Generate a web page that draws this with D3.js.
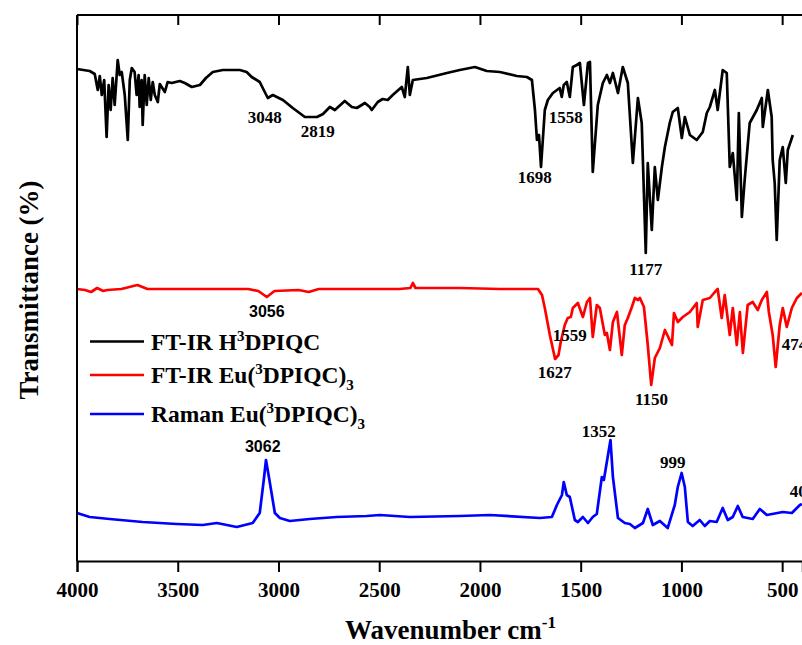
<!DOCTYPE html>
<html>
<head>
<meta charset="utf-8">
<script src="https://cdn.jsdelivr.net/npm/d3@7"></script>
<style>
  html, body { margin: 0; padding: 0; background: #fff; }
  svg { display: block; }
</style>
</head>
<body>
<svg id="chart" width="802" height="645"></svg>
<script>
// FT-IR H3DPIQC (black) - wavenumber / relative intensity (offset, a.u.)
const irLigandWave = [4000,3937,3912,3897,3887,3877,3865,3853,3843,3833,3823,3813,3798,3788,3778,3763,3748,3738,3728,3714,3704,3694,3689,3679,3674,3664,3654,3644,3634,3624,3614,3599,3589,3564,3550,3530,3490,3465,3430,3390,3360,3326,3276,3192,3158,3133,3093,3053,3028,2978,2929,2869,2809,2779,2745,2720,2671,2636,2611,2571,2547,2537,2507,2483,2458,2433,2388,2373,2358,2348,2333,2264,2164,2100,2025,1966,1901,1817,1767,1742,1727,1717,1707,1697,1688,1678,1663,1638,1604,1594,1584,1569,1554,1539,1519,1504,1484,1464,1454,1440,1415,1390,1370,1355,1340,1315,1291,1266,1241,1216,1197,1177,1167,1147,1132,1117,1097,1082,1058,1043,1018,998,983,958,924,894,874,859,834,820,795,775,760,745,725,715,700,686,676,661,626,601,596,571,552,547,537,527,512,497,482,472,447];
const irLigandVal = [246,245,243.5,235.5,242.5,233,240.5,212,238,225.5,241.5,228,250.5,243,244.5,233,210.5,240.5,246.5,244.5,233,243,227,240.5,218,243,228,241.5,230.5,239.5,233,229.5,238.5,234.5,239.5,239,240,239,237,238,241.5,244.5,245.5,245.5,244.5,242,239.5,231.5,233,230.5,226.5,222,222,223.5,227,225.5,230,227,226.5,229,227,225.5,229.5,231,230.5,233,237,232,247,233,240.5,241.5,244,245.5,247,245,244.5,242.5,242,240.5,225.5,210.5,213,197,210.5,225.5,230.5,234,236.5,232,238,239.5,232,247,248,249,228,249,249.5,194.5,228,239,243,239,244,234,247,239,199,231.5,219,154,199,165.5,197,180.5,197,207,219,224.5,226.5,211.5,222,213,210.5,214.5,224,227,235.5,225.5,245.5,244,197,204,180.5,224,172,190.5,202,219,225.5,231.5,217,235.5,222,200.5,189,160.5,200.5,207,189,205.5,213];

// FT-IR Eu(3DPIQC)3 (red)
const irComplexWave = [4000,3960,3930,3900,3870,3850,3780,3700,3650,3500,3300,3150,3100,3058,3020,2900,2850,2800,2600,2400,2345,2333,2320,2100,1900,1802,1712,1692,1678,1653,1627,1610,1599,1579,1564,1549,1539,1514,1489,1469,1454,1440,1420,1405,1380,1370,1355,1340,1320,1296,1281,1266,1246,1231,1215,1206,1186,1167,1150,1132,1107,1082,1047,1037,1018,993,958,924,919,894,859,834,820,800,785,760,745,725,710,695,671,646,621,601,576,566,547,532,512,497,477,452,427,402];
const irComplexVal = [136,135.5,134.5,136.5,135,135.5,136,138,136,136,136,136,135,132,135,135.5,134.5,136,136,136,136.5,139,136.5,136.5,136,136,136,133,126.5,113,101,103,109.5,118,121.5,122,126.5,129,122,129.5,131.5,112,128,126.5,113,114,105.5,119.5,124.5,103,118,121.5,127,131.5,130.5,131.5,127,108,88,101.5,106.5,115.5,108,124,119.5,122,124.5,129,117,130.5,131.5,134.5,136,121.5,133,113,126.5,108,124.5,104,128,129.5,125.5,130.5,134.5,124.5,113,97,118,126.5,117,126.5,131.5,134];

// Raman Eu(3DPIQC)3 (blue)
const ramanWave = [4000,3937,3838,3674,3505,3376,3306,3207,3128,3093,3073,3062,3045,3018,2993,2944,2845,2711,2562,2497,2348,2100,1951,1703,1643,1618,1593,1584,1569,1554,1529,1514,1489,1464,1440,1420,1395,1385,1352,1340,1315,1281,1256,1231,1191,1167,1142,1107,1068,1033,1018,999,983,968,944,909,884,859,825,795,770,745,720,696,646,611,576,497,452,412,402];
const ramanVal = [24,22,21,19.5,18.5,18,19,17,19,24,40.5,50.5,40.5,24,21.5,20,21,22,22.5,23,22,22.5,23,21.5,22,28,33,39.5,33,32,20.5,19.5,22,19,22,23.5,42,40.5,60.5,42,21.5,19,18.5,16.5,19,26,18,20,16.5,28,37,44,37,19.5,17.5,20.5,17.5,20,19.5,26.5,20.5,22,27.5,22,21,26,23,24.5,24,28,28.5];

// Peak labels: text, wavenumber, value (label baseline), font
const labelText = ["3048","2819","1698","1558","1177","3056","1559","1627","1150","474","3062","1352","999","409"];
const labelWave = [3068,2805,1728,1574,1177,3058,1554,1629,1148,502,3078,1410,1043,462];
const labelVal  = [219,212,189,219,143,122,110,91.5,78,105.5,54.5,62,46.5,32];
const labelSans = [false,false,false,false,false,true,false,false,false,false,true,false,false,false];
const labelStart = [false,false,false,false,false,false,false,false,false,true,false,false,false,true];

const xTicks = [4000,3500,3000,2500,2000,1500,1000,500];

const width = 802, height = 645;
const margin = { top: 15, right: 0, bottom: 84, left: 77 };
const serif = "'Times New Roman', 'Liberation Serif', serif";
const sans = "Arial, 'Liberation Sans', sans-serif";

const svg = d3.select("#chart");

const x = d3.scaleLinear()
  .domain([4000, 400])
  .range([margin.left, 802.3]);

const y = d3.scaleLinear()
  .domain([0, 273])
  .range([height - margin.bottom, margin.top]);

// Series
const series = [
  { wave: irLigandWave, val: irLigandVal, color: "#000000" },
  { wave: irComplexWave, val: irComplexVal, color: "#ff0000" },
  { wave: ramanWave, val: ramanVal, color: "#0000ff" }
];

const line = d3.line()
  .x(d => x(d[0]))
  .y(d => y(d[1]));

series.forEach(s => {
  svg.append("path")
    .datum(d3.zip(s.wave, s.val))
    .attr("fill", "none")
    .attr("stroke", s.color)
    .attr("stroke-width", 2.7)
    .attr("stroke-linejoin", "round")
    .attr("d", line);
});

// Axes frame
const yBottom = height - margin.bottom;
svg.append("line")
  .attr("x1", margin.left).attr("x2", margin.left)
  .attr("y1", margin.top).attr("y2", yBottom)
  .attr("stroke", "#000").attr("stroke-width", 2);
svg.append("line")
  .attr("x1", margin.left).attr("x2", width)
  .attr("y1", margin.top).attr("y2", margin.top)
  .attr("stroke", "#000").attr("stroke-width", 2);

const xAxis = svg.append("g")
  .attr("transform", `translate(0,${yBottom})`)
  .call(d3.axisBottom(x).tickValues(xTicks).tickSize(11).tickPadding(10).tickFormat(d3.format("d")));
xAxis.select(".domain").attr("stroke-width", 2);
xAxis.selectAll(".tick line").attr("stroke-width", 2);
xAxis.selectAll(".tick text")
  .style("font-family", serif)
  .style("font-weight", "bold")
  .style("font-size", "21px")
  .attr("fill", "#000");

// top ticks pointing inward
svg.append("g")
  .attr("transform", `translate(0,${margin.top})`)
  .call(d3.axisBottom(x).tickValues(xTicks).tickSize(10).tickFormat(""))
  .call(g => g.select(".domain").remove())
  .selectAll(".tick line").attr("stroke-width", 2);

// Axis titles
const xTitle = svg.append("text")
  .attr("x", 345)
  .attr("y", 639)
  .style("font-family", serif)
  .style("font-weight", "bold")
  .style("font-size", "27px")
  .text("Wavenumber cm");
xTitle.append("tspan")
  .attr("dy", -11)
  .style("font-size", "17px")
  .text("-1");

svg.append("text")
  .attr("transform", `translate(38,${(margin.top + yBottom) / 2 + 2}) rotate(-90)`)
  .attr("text-anchor", "middle")
  .style("font-family", serif)
  .style("font-weight", "bold")
  .style("font-size", "27px")
  .text("Transmittance (%)");

// Peak labels
labelText.forEach((t, i) => {
  svg.append("text")
    .attr("x", x(labelWave[i]))
    .attr("y", y(labelVal[i]))
    .attr("text-anchor", labelStart[i] ? "start" : "middle")
    .style("font-family", labelSans[i] ? sans : serif)
    .style("font-weight", "bold")
    .style("font-size", labelSans[i] ? "16px" : "17px")
    .text(t);
});

// Legend
const legend = svg.append("g");
const legendRows = [
  { color: "#000000", parts: [["FT-IR H", 0], ["3", -1], ["DPIQC", 0]] },
  { color: "#ff0000", parts: [["FT-IR Eu(", 0], ["3", -1], ["DPIQC)", 0], ["3", 1]] },
  { color: "#0000ff", parts: [["Raman Eu(", 0], ["3", -1], ["DPIQC)", 0], ["3", 1]] }
];
const legendY = [341.5, 375, 414];

legendRows.forEach((row, i) => {
  legend.append("line")
    .attr("x1", 90).attr("x2", 144)
    .attr("y1", legendY[i]).attr("y2", legendY[i])
    .attr("stroke", row.color)
    .attr("stroke-width", 2.7);
  const txt = legend.append("text")
    .attr("x", 151)
    .attr("y", legendY[i] + 8)
    .style("font-family", serif)
    .style("font-weight", "bold")
    .style("font-size", "23.5px");
  let shift = 0;
  row.parts.forEach(p => {
    const dy = p[1] === -1 ? -9 : p[1] === 1 ? 7 : 0;
    txt.append("tspan")
      .attr("dy", dy - shift)
      .style("font-size", p[1] === 0 ? "23.5px" : "15px")
      .text(p[0]);
    shift = dy;
  });
});
</script>
</body>
</html>
